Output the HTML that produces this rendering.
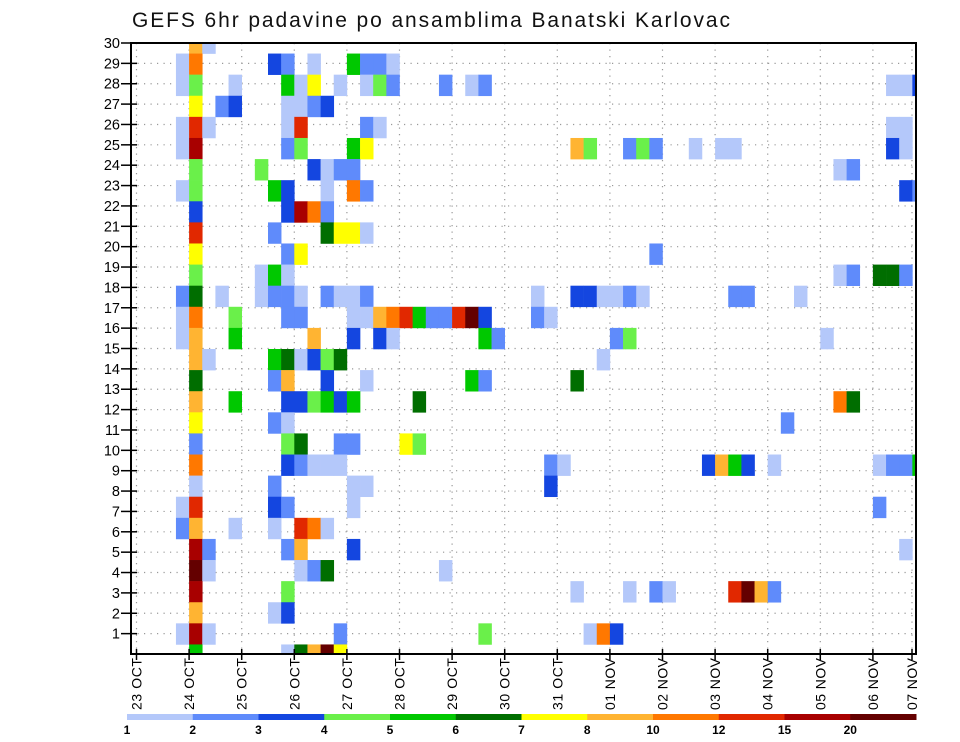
<!DOCTYPE html>
<html><head><meta charset="utf-8"><style>
html,body{margin:0;padding:0;background:#fff;}
svg{display:block;font-family:"Liberation Sans",sans-serif;}
</style></head><body>
<svg id="chart" width="960" height="742" viewBox="0 0 960 742" xmlns="http://www.w3.org/2000/svg">
<text x="132" y="27" font-size="21" fill="#111" textLength="598" lengthAdjust="spacing">GEFS 6hr padavine po ansamblima Banatski Karlovac</text>
<defs><clipPath id="plotclip"><rect x="131" y="43" width="785" height="611"/></clipPath></defs>
<g id="grid"></g>
<g id="cells" clip-path="url(#plotclip)"></g>
<rect x="131" y="43" width="785" height="611" fill="none" stroke="#000" stroke-width="2"/>
<g id="axes"></g>
<g id="colorbar"></g>
</svg>
<script>
// ---- data ----
const dayLabels = ["23 OCT","24 OCT","25 OCT","26 OCT","27 OCT","28 OCT","29 OCT","30 OCT","31 OCT","01 NOV","02 NOV","03 NOV","04 NOV","05 NOV","06 NOV","07 NOV"];
const memberLabels = [1,2,3,4,5,6,7,8,9,10,11,12,13,14,15,16,17,18,19,20,21,22,23,24,25,26,27,28,29,30];
const levelLabels = ["1","2","3","4","5","6","7","8","10","12","15","20"];
const levelBounds = [1,2,3,4,5,6,7,8,10,12,15,20];
const levelColors = ["#b4c8fa","#5f8bfb","#1446e0","#6af04a","#00c800","#006e00","#ffff00","#ffb432","#ff7800","#e12800","#a80000","#640000"];
// cells: [member, 6h step, precip mm]
const cells = [
[29,4,9],[29,5,1.5],
[28,3,1.5],[28,4,11],[28,10,3.5],[28,11,2.5],[28,13,1.5],[28,16,5.5],[28,17,2.5],[28,18,2.5],[28,19,1.5],
[27,3,1.5],[27,4,4.5],[27,7,1.5],[27,11,5.5],[27,12,1.5],[27,13,7.5],[27,15,1.5],[27,17,1.5],[27,18,4.5],[27,19,2.5],[27,23,2.5],[27,25,1.5],[27,26,2.5],[27,57,1.5],[27,58,1.5],[27,59,3.5],
[26,4,7.5],[26,6,2.5],[26,7,3.5],[26,11,1.5],[26,12,1.5],[26,13,2.5],[26,14,3.5],
[25,3,1.5],[25,4,13.5],[25,5,1.5],[25,11,1.5],[25,12,13.5],[25,17,2.5],[25,18,1.5],[25,57,1.5],[25,58,1.5],
[24,3,1.5],[24,4,17.5],[24,11,2.5],[24,12,4.5],[24,16,5.5],[24,17,7.5],[24,33,9],[24,34,4.5],[24,37,2.5],[24,38,4.5],[24,39,2.5],[24,42,1.5],[24,44,1.5],[24,45,1.5],[24,57,3.5],[24,58,1.5],
[23,4,4.5],[23,9,4.5],[23,13,3.5],[23,14,1.5],[23,15,2.5],[23,16,2.5],[23,53,1.5],[23,54,2.5],
[22,3,1.5],[22,4,4.5],[22,10,5.5],[22,11,3.5],[22,14,1.5],[22,16,11],[22,17,2.5],[22,58,3.5],[22,59,2.5],
[21,4,3.5],[21,11,3.5],[21,12,17.5],[21,13,11],[21,14,2.5],
[20,4,13.5],[20,10,2.5],[20,14,6.5],[20,15,7.5],[20,16,7.5],[20,17,1.5],
[19,4,7.5],[19,11,2.5],[19,12,7.5],[19,39,2.5],
[18,4,4.5],[18,9,1.5],[18,10,5.5],[18,11,1.5],[18,53,1.5],[18,54,2.5],[18,56,6.5],[18,57,6.5],[18,58,2.5],
[17,3,2.5],[17,4,6.5],[17,6,1.5],[17,9,1.5],[17,10,2.5],[17,11,2.5],[17,12,1.5],[17,14,2.5],[17,15,1.5],[17,16,1.5],[17,17,2.5],[17,30,1.5],[17,33,3.5],[17,34,3.5],[17,35,1.5],[17,36,1.5],[17,37,2.5],[17,38,1.5],[17,45,2.5],[17,46,2.5],[17,50,1.5],
[16,3,1.5],[16,4,11],[16,7,4.5],[16,11,2.5],[16,12,2.5],[16,16,1.5],[16,17,1.5],[16,18,9],[16,19,11],[16,20,13.5],[16,21,5.5],[16,22,2.5],[16,23,2.5],[16,24,13.5],[16,25,22],[16,26,3.5],[16,30,2.5],[16,31,1.5],
[15,3,1.5],[15,4,9],[15,7,5.5],[15,13,9],[15,16,3.5],[15,18,3.5],[15,19,1.5],[15,26,5.5],[15,27,2.5],[15,36,2.5],[15,37,4.5],[15,52,1.5],
[14,4,9],[14,5,1.5],[14,10,5.5],[14,11,6.5],[14,12,1.5],[14,13,3.5],[14,14,4.5],[14,15,6.5],[14,35,1.5],
[13,4,6.5],[13,10,2.5],[13,11,9],[13,14,3.5],[13,17,1.5],[13,25,5.5],[13,26,2.5],[13,33,6.5],
[12,4,9],[12,7,5.5],[12,11,3.5],[12,12,3.5],[12,13,4.5],[12,14,5.5],[12,15,3.5],[12,16,5.5],[12,21,6.5],[12,53,11],[12,54,6.5],
[11,4,7.5],[11,10,2.5],[11,11,1.5],[11,49,2.5],
[10,4,2.5],[10,11,4.5],[10,12,6.5],[10,15,2.5],[10,16,2.5],[10,20,7.5],[10,21,4.5],
[9,4,11],[9,11,3.5],[9,12,2.5],[9,13,1.5],[9,14,1.5],[9,15,1.5],[9,31,2.5],[9,32,1.5],[9,43,3.5],[9,44,9],[9,45,5.5],[9,46,3.5],[9,48,1.5],[9,56,1.5],[9,57,2.5],[9,58,2.5],[9,59,5.5],
[8,4,1.5],[8,10,2.5],[8,16,1.5],[8,17,1.5],[8,31,3.5],
[7,3,1.5],[7,4,13.5],[7,10,3.5],[7,11,2.5],[7,16,1.5],[7,56,2.5],
[6,3,2.5],[6,4,9],[6,7,1.5],[6,10,1.5],[6,12,13.5],[6,13,11],[6,14,1.5],
[5,4,17.5],[5,5,2.5],[5,11,2.5],[5,12,9],[5,16,3.5],[5,58,1.5],
[4,4,22],[4,5,1.5],[4,12,1.5],[4,13,2.5],[4,14,6.5],[4,23,1.5],
[3,4,17.5],[3,11,4.5],[3,33,1.5],[3,37,1.5],[3,39,2.5],[3,40,1.5],[3,45,13.5],[3,46,22],[3,47,9],[3,48,2.5],
[2,4,9],[2,10,1.5],[2,11,3.5],
[1,3,1.5],[1,4,17.5],[1,5,1.5],[1,15,2.5],[1,26,4.5],[1,34,1.5],[1,35,11],[1,36,3.5],
[0,4,5.5],[0,11,1.5],[0,12,6.5],[0,13,9],[0,14,22],[0,15,7.5]
];
// ---- scales ----
const NS="http://www.w3.org/2000/svg";
const X0=136.5, STEP_W=13.15, DAY_W=52.6;
const PLOT_L=131, PLOT_R=916, PLOT_T=43, PLOT_B=654;
const CELL_H=(PLOT_B+1-PLOT_T)/29;
function xStep(s){return X0+STEP_W*s;}
function yMember(m){return PLOT_B+1-CELL_H*m;}
function yLabel(n){return PLOT_B-(PLOT_B-PLOT_T)/30*n;}
function xDay(d){return Math.min(X0+DAY_W*d, 912);}
function colorFor(v){let i=0;for(let j=0;j<levelBounds.length;j++){if(v>=levelBounds[j])i=j;}return levelColors[i];}
function mk(tag,attrs,parent){const e=document.createElementNS(NS,tag);for(const k in attrs)e.setAttribute(k,attrs[k]);parent.appendChild(e);return e;}

const gCells=document.getElementById('cells');
cells.forEach(c=>{
  const r=mk('rect',{x:xStep(c[1]).toFixed(2),y:(yMember(c[0])-CELL_H/2).toFixed(2),width:STEP_W+0.3,height:CELL_H+0.3,fill:colorFor(c[2])},gCells);
  
  
});

const gGrid=document.getElementById('grid');
memberLabels.forEach(n=>{
  const y=yLabel(n);
  const l=mk('line',{x1:PLOT_L,x2:PLOT_R,y1:y,y2:y,stroke:'#999','stroke-width':1.2,'stroke-dasharray':'1.2,5.3'},gGrid);
  
  
});
dayLabels.forEach((d,i)=>{
  const x=xDay(i);
  const l=mk('line',{x1:x,x2:x,y1:PLOT_T,y2:PLOT_B,stroke:'#999','stroke-width':1.2,'stroke-dasharray':'1.2,5.3'},gGrid);
  
  
});

const gAx=document.getElementById('axes');
memberLabels.forEach(n=>{
  const y=yLabel(n);
  const t=mk('line',{x1:121,x2:137,y1:y,y2:y,stroke:'#000','stroke-width':1.5},gAx);
  
  
  const tx=mk('text',{x:120,y:y+5,'text-anchor':'end','font-size':14.5,fill:'#000'},gAx);
  tx.textContent=n;
  
  
});
dayLabels.forEach((d,i)=>{
  const x=xDay(i);
  const t=mk('line',{x1:x,x2:x,y1:PLOT_B-5,y2:PLOT_B+6,stroke:'#000','stroke-width':1.5},gAx);
  
  
  const tx=mk('text',{'text-anchor':'end','font-size':14,fill:'#000',textLength:52,lengthAdjust:'spacing',transform:'translate('+(x+5)+',658) rotate(-90)'},gAx);
  tx.textContent=d;
  
  
});

const gCb=document.getElementById('colorbar');
const CB_X=127, CB_W=(916-127)/12;
levelColors.forEach((c,i)=>{
  const r=mk('rect',{x:CB_X+CB_W*i,y:714,width:CB_W+0.5,height:6,fill:c},gCb);
  
  
});
levelLabels.forEach((lab,i)=>{
  const tx=mk('text',{x:CB_X+CB_W*i,y:734,'text-anchor':'middle','font-size':12,'font-weight':'bold',fill:'#000'},gCb);
  tx.textContent=lab;
  
  
});
</script>
</body></html>
